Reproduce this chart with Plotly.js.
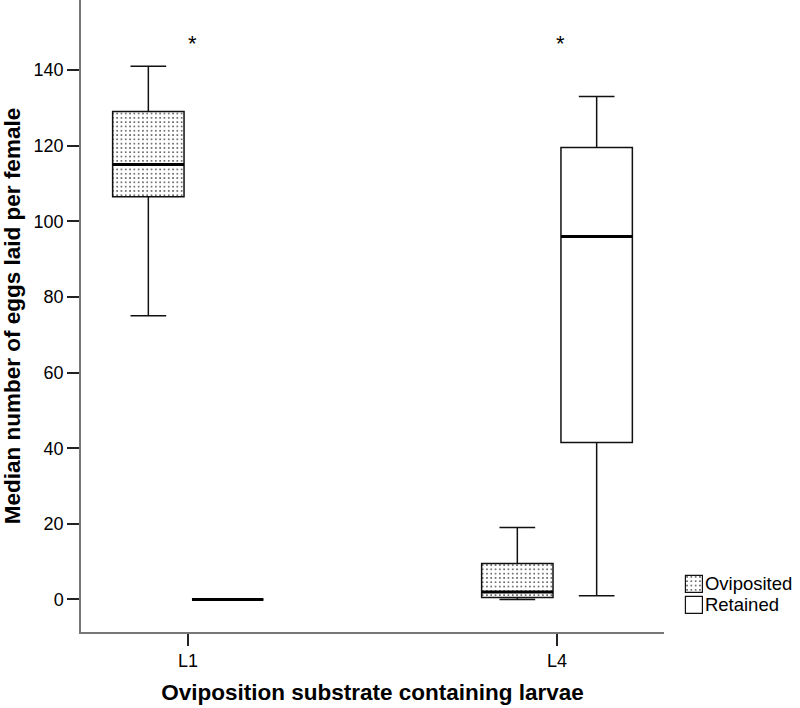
<!DOCTYPE html>
<html>
<head>
<meta charset="utf-8">
<script src="https://cdn.plot.ly/plotly-3.0.1.min.js"></script>
<style>
  body { margin: 0; background: #fff; }
  #eggsBox { width: 800px; height: 708px; }
</style>
</head>
<body>
<div id="eggsBox"></div>
<script>
//Data
var categories = ['L1', 'L4'];

var ovipositedMin = [75, 0];
var ovipositedQ1 = [106.5, 0.5];
var ovipositedMedian = [115, 2];
var ovipositedQ3 = [129, 9.5];
var ovipositedMax = [141, 19];

var retainedMin = [0, 1];
var retainedQ1 = [0, 41.5];
var retainedMedian = [0, 96];
var retainedQ3 = [0, 119.5];
var retainedMax = [0, 133];

var sigMarks = ['*', '*'];
var sigY = [147, 147];

var font = 'Arial, "Liberation Sans", sans-serif';
var boxGap = 0.57;
var boxGroupGap = 0.1;

var eggsData = [
    {
        type: 'box',
        name: 'Oviposited',
        x: categories,
        lowerfence: ovipositedMin,
        q1: ovipositedQ1,
        median: ovipositedMedian,
        q3: ovipositedQ3,
        upperfence: ovipositedMax,
        fillcolor: '#ffffff',
        line: {color: '#111', width: 1.5},
        whiskerwidth: 0.5
    },
    {
        type: 'box',
        name: 'Retained',
        x: categories,
        lowerfence: retainedMin,
        q1: retainedQ1,
        median: retainedMedian,
        q3: retainedQ3,
        upperfence: retainedMax,
        fillcolor: '#ffffff',
        line: {color: '#111', width: 1.5},
        whiskerwidth: 0.5
    }
];

//thicker median lines, placed where plotly puts the grouped boxes
var medians = [ovipositedMedian, retainedMedian];
var medianShapes = [];
medians.forEach(function(med, t) {
    var shift = (t === 0 ? -1 : 1) * 0.25 * (1 - boxGap);
    var half = 0.25 * (1 - boxGap) * (1 - boxGroupGap);
    med.forEach(function(m, i) {
        medianShapes.push({
            type: 'line', xref: 'x', yref: 'y',
            x0: i + shift - half, x1: i + shift + half,
            y0: m, y1: m,
            line: {color: '#000', width: 3}
        });
    });
});

//significance stars
var stars = categories.map(function(c, i) {
    return {
        x: c, y: sigY[i], text: sigMarks[i],
        showarrow: false, xshift: 4,
        font: {family: font, size: 22, color: '#000'}
    };
});

//Layout
var eggsLayout = {
    width: 800,
    height: 708,
    margin: {l: 81, r: 136, t: 0, b: 76},
    paper_bgcolor: '#fff',
    plot_bgcolor: '#fff',
    font: {family: font, size: 18, color: '#000'},
    boxmode: 'group',
    boxgap: boxGap,
    boxgroupgap: boxGroupGap,
    showlegend: true,
    //small font here so the legend does not push the right margin; enlarged below
    legend: {
        x: 1.017, xanchor: 'left',
        y: 0.102, yanchor: 'top',
        font: {family: font, size: 15, color: '#000'},
        tracegroupgap: 0,
        itemwidth: 30
    },
    xaxis: {
        type: 'category',
        range: [-0.29, 1.29],
        showline: true, linecolor: '#777', linewidth: 1.5,
        ticks: 'outside', ticklen: 12, tickcolor: '#222', tickwidth: 1.5,
        showgrid: false, zeroline: false,
        tickfont: {family: font, size: 18, color: '#000'},
        title: {
            text: '<b>Oviposition substrate containing larvae</b>',
            font: {family: font, size: 22.5, color: '#000'},
            standoff: 14
        }
    },
    yaxis: {
        range: [-8.6, 158.5],
        tickvals: [0, 20, 40, 60, 80, 100, 120, 140],
        showline: true, linecolor: '#777', linewidth: 1.5,
        ticks: 'outside', ticklen: 12, tickcolor: '#222', tickwidth: 1.5,
        showgrid: false, zeroline: false,
        tickfont: {family: font, size: 18, color: '#000'},
        title: {
            text: '<b>Median number of eggs laid per female</b>',
            font: {family: font, size: 22.5, color: '#000'},
            standoff: 10
        }
    },
    shapes: medianShapes,
    annotations: stars,
    hovermode: false
};

//Plotting
Plotly.newPlot('eggsBox', eggsData, eggsLayout, {displayModeBar: false}).then(function(gd) {
    //dotted fill for the oviposited boxes and legend key
    var ns = 'http://www.w3.org/2000/svg';
    var defs = gd.querySelector('svg.main-svg defs');
    var pat = document.createElementNS(ns, 'pattern');
    pat.setAttribute('id', 'dots');
    pat.setAttribute('width', 4.3);
    pat.setAttribute('height', 4.3);
    pat.setAttribute('patternUnits', 'userSpaceOnUse');
    var bg = document.createElementNS(ns, 'rect');
    bg.setAttribute('width', 4.3);
    bg.setAttribute('height', 4.3);
    bg.setAttribute('fill', '#fff');
    pat.appendChild(bg);
    var dot = document.createElementNS(ns, 'rect');
    dot.setAttribute('x', 1);
    dot.setAttribute('y', 1);
    dot.setAttribute('width', 1.5);
    dot.setAttribute('height', 1.5);
    dot.setAttribute('fill', '#444');
    pat.appendChild(dot);
    defs.appendChild(pat);

    var traces = gd.querySelectorAll('.trace.boxes');
    traces[0].querySelectorAll('path.box').forEach(function(p) {
        p.style.fill = 'url(#dots)';
        p.style.fillOpacity = 1;
    });

    //legend: plain squares, bigger text close to the key, tighter rows
    gd.querySelectorAll('.legend [clip-path]').forEach(function(el) {
        el.removeAttribute('clip-path');
    });
    var items = gd.querySelectorAll('.legend .traces');
    var firstY = null;
    items.forEach(function(item, i) {
        var key = item.querySelector('path.legendbox');
        key.setAttribute('d', 'M-8.5,-8.5H8.5V8.5H-8.5Z');
        key.style.strokeWidth = '1.2px';
        key.style.stroke = '#111';
        if (i === 0) {
            key.style.fill = 'url(#dots)';
            key.style.fillOpacity = 1;
        }
        var txt = item.querySelector('text.legendtext');
        txt.setAttribute('x', 31);
        txt.style.fontSize = '18.5px';
        var m = /translate\(([-\d.]+),\s*([-\d.]+)\)/.exec(item.getAttribute('transform'));
        if (m) {
            if (firstY === null) firstY = +m[2];
            item.setAttribute('transform', 'translate(' + m[1] + ',' + (firstY + 21 * i) + ')');
        }
    });
    var bgRect = gd.querySelector('.legend rect.bg');
    if (bgRect) bgRect.style.fillOpacity = 0;
});
</script>
</body>
</html>
